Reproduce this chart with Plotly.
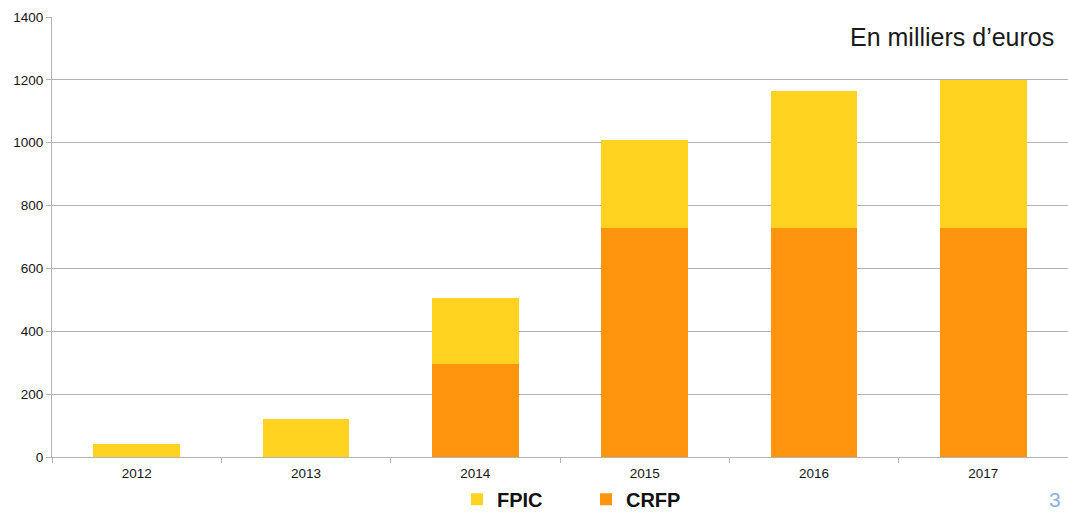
import plotly.graph_objects as go

# Annual amounts, in thousands of euros
years = ["2012", "2013", "2014", "2015", "2016", "2017"]
crfp = [0, 0, 295, 728, 728, 728]
fpic = [42, 120, 210, 282, 437, 472]
y_ticks = [0, 200, 400, 600, 800, 1000, 1200, 1400]

YELLOW = "#ffd320"
ORANGE = "#ff950e"
GRID = "#b3b3b3"
TEXT = "#151515"

fig = go.Figure()
fig.add_trace(go.Bar(
    x=years, y=crfp, name="<b>CRFP</b>", marker=dict(color=ORANGE, line=dict(width=0)),
    legendrank=2,
))
fig.add_trace(go.Bar(
    x=years, y=fpic, name="<b>FPIC</b>", marker=dict(color=YELLOW, line=dict(width=0)),
    legendrank=1,
))

fig.update_layout(
    barmode="stack",
    bargap=0.49,
    width=1068,
    height=513,
    margin=dict(l=52, r=0, t=17, b=56, autoexpand=False),
    paper_bgcolor="white",
    plot_bgcolor="white",
    font=dict(family="Liberation Sans, Arial, sans-serif", color=TEXT, size=13.5),
    showlegend=True,
    legend=dict(
        orientation="h",
        traceorder="normal",
        x=0.3986, xanchor="left",
        yref="container",
        y=0.027, yanchor="middle",
        font=dict(size=20, color="#111111", family="Liberation Sans, Arial, sans-serif"),
        itemwidth=30,
        entrywidth=84,
        bgcolor="rgba(0,0,0,0)",
    ),
    xaxis=dict(
        type="category",
        showline=True, linecolor=GRID, linewidth=1,
        ticks="outside", ticklen=5, tickcolor=GRID, tickson="boundaries",
        showgrid=False,
        tickfont=dict(size=13.5, color=TEXT),
        ticklabelstandoff=4,
    ),
    yaxis=dict(
        range=[0, 1400],
        tickvals=y_ticks,
        showline=True, linecolor=GRID, linewidth=1,
        ticks="outside", ticklen=5, tickcolor=GRID,
        showgrid=True, gridcolor=GRID, gridwidth=1,
        zeroline=False,
        tickfont=dict(size=13.5, color=TEXT),
    ),
    annotations=[
        dict(
            text="En milliers d\u2019euros",
            xref="paper", yref="paper",
            x=0.988, y=0.9545, xanchor="right", yanchor="middle",
            showarrow=False,
            font=dict(size=25, color="#1a1a1a"),
        ),
        dict(
            text="3",
            xref="paper", yref="paper",
            x=0.995, y=-0.0977, xanchor="right", yanchor="middle",
            showarrow=False,
            font=dict(size=21, color="#8db0de"),
        ),
    ],
)

fig.write_html("out.html")
